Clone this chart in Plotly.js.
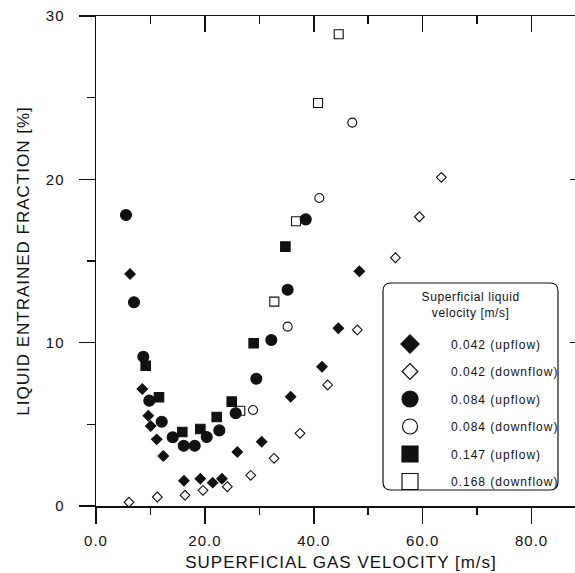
<!DOCTYPE html>
<html>
<head>
<meta charset="utf-8">
<script src="https://cdn.plot.ly/plotly-3.0.1.min.js"></script>
<style>
  html, body { margin: 0; padding: 0; overflow: hidden; background: #fff; }
  #chart { width: 600px; height: 573px; }
  .xtick text, .ytick text { letter-spacing: 1px; }
  text.xtitle, text.ytitle { letter-spacing: 1px; }
  text.legendtext { letter-spacing: 1px; }
  g.annotation-text-g text { letter-spacing: 0.6px; }
</style>
</head>
<body>
<div id="chart"></div>
<script>
// ---- data ----
const upflow042X = [6.25, 8.5, 9.61, 10.05, 11.15, 12.36, 16.16, 19.16, 21.44, 23.14, 25.96, 30.44, 35.76, 41.51, 44.51, 48.37];
const upflow042Y = [14.2, 7.16, 5.53, 4.90, 4.08, 3.06, 1.55, 1.67, 1.43, 1.67, 3.31, 3.94, 6.69, 8.53, 10.88, 14.37];

const down042X = [6.06, 11.26, 16.35, 19.65, 24.12, 28.42, 32.70, 37.47, 42.55, 48.0, 55.0, 59.4, 63.43];
const down042Y = [0.23, 0.55, 0.66, 0.96, 1.18, 1.88, 2.92, 4.45, 7.41, 10.78, 15.2, 17.71, 20.12];

const upflow084X = [5.51, 6.98, 8.69, 9.79, 12.07, 14.09, 16.11, 18.13, 20.33, 22.65, 25.66, 29.45, 32.2, 35.2, 38.52];
const upflow084Y = [17.82, 12.47, 9.14, 6.45, 5.16, 4.21, 3.69, 3.69, 4.22, 4.63, 5.68, 7.79, 10.16, 13.24, 17.55];

const down084X = [28.84, 35.2, 41.02, 47.08];
const down084Y = [5.88, 10.98, 18.86, 23.47];

const upflow147X = [9.13, 11.57, 15.85, 19.16, 22.17, 24.93, 28.96, 34.78];
const upflow147Y = [8.59, 6.66, 4.53, 4.71, 5.45, 6.39, 9.96, 15.88];

const down168X = [26.5, 32.75, 36.74, 40.78, 44.58];
const down168Y = [5.83, 12.51, 17.43, 24.67, 28.88];

const seriesNames = ['0.042 (upflow)', '0.042 (downflow)', '0.084 (upflow)', '0.084 (downflow)', '0.147 (upflow)', '0.168 (downflow)'];

const xTickVals = [0, 20, 40, 60, 80];
const xTickLabels = ['0.0', '20.0', '40.0', '60.0', '80.0'];
const yTickVals = [0, 10, 20, 30];
const yTickLabels = ['0', '10', '20', '30'];

const xTitle = 'SUPERFICIAL GAS VELOCITY [m/s]';
const yTitle = 'LIQUID ENTRAINED FRACTION [%]';
const legendTitle = 'Superficial liquid<br>velocity [m/s]';

// ---- styles ----
const FONT = "'Liberation Sans', Arial, sans-serif";
const INK = '#111';
const styles = [
  {symbol: 'diamond', size: 8, lsize: 14},
  {symbol: 'diamond-open', size: 7.5, lsize: 12},
  {symbol: 'circle', size: 11, lsize: 16},
  {symbol: 'circle-open', size: 9, lsize: 15},
  {symbol: 'square', size: 9.5, lsize: 16},
  {symbol: 'square-open', size: 9, lsize: 16}
];
const xs = [upflow042X, down042X, upflow084X, down084X, upflow147X, down168X];
const ys = [upflow042Y, down042Y, upflow084Y, down084Y, upflow147Y, down168Y];

const traces = [];
for (let i = 0; i < 6; i++) {
  traces.push({
    type: 'scatter', mode: 'markers', x: xs[i], y: ys[i], name: seriesNames[i],
    showlegend: false, hoverinfo: 'x+y',
    marker: {symbol: styles[i].symbol, size: styles[i].size, color: INK, line: {color: INK, width: 1.1}}
  });
}
// legend entries (larger symbols, as in the reference legend)
for (let i = 0; i < 6; i++) {
  traces.push({
    type: 'scatter', mode: 'markers', x: [null], y: [null], name: seriesNames[i],
    xaxis: 'x2', yaxis: 'y2', legendgroup: 'g' + i, showlegend: true, hoverinfo: 'skip',
    marker: {symbol: styles[i].symbol, size: styles[i].lsize, color: INK, line: {color: INK, width: 1.2}}
  });
}

// ---- layout helpers (paper coordinates for the 490x490 plot area) ----
const L = 96, T = 16, W = 490, H = 490;
const px = v => (v - L) / W;
const py = v => (T + H - v) / H;
const bx0 = px(383), bx1 = px(558), by0 = py(490), by1 = py(283), r = 8 / W;
const boxPath = `M ${bx0 + r},${by0} L ${bx1 - r},${by0} Q ${bx1},${by0} ${bx1},${by0 + r} ` +
  `L ${bx1},${by1 - r} Q ${bx1},${by1} ${bx1 - r},${by1} L ${bx0 + r},${by1} ` +
  `Q ${bx0},${by1} ${bx0},${by1 - r} L ${bx0},${by0 + r} Q ${bx0},${by0} ${bx0 + r},${by0} Z`;

const axisCommon = {
  showline: true, linecolor: INK, linewidth: 1.5, zeroline: false, showgrid: false,
  tickcolor: INK, tickwidth: 1.5, ticklen: 16
};

const layout = {
  width: 600, height: 573,
  margin: {l: L, r: 600 - L - W, t: T, b: 573 - T - H},
  paper_bgcolor: '#fff', plot_bgcolor: '#fff',
  font: {family: FONT, color: INK, size: 14},
  showlegend: true,
  xaxis: Object.assign({}, axisCommon, {
    range: [0, 90], ticks: 'outside', tickmode: 'array', tickvals: xTickVals, ticktext: xTickLabels,
    tickfont: {size: 15, family: FONT, color: INK}, ticklabelstandoff: 4,
    minor: {tickmode: 'linear', tick0: 0, dtick: 10, ticks: 'outside', ticklen: 7, tickwidth: 1.5, tickcolor: INK, showgrid: false},
    title: {text: xTitle, font: {size: 17, family: FONT, color: INK}, standoff: 8}
  }),
  yaxis: Object.assign({}, axisCommon, {
    range: [0, 30], ticks: 'outside', tickmode: 'array', tickvals: yTickVals, ticktext: yTickLabels,
    tickfont: {size: 15, family: FONT, color: INK}, ticklabelstandoff: 11,
    minor: {tickmode: 'linear', tick0: 0, dtick: 5, ticks: 'outside', ticklen: 8, tickwidth: 1.5, tickcolor: INK, showgrid: false},
    title: {text: yTitle, font: {size: 17, family: FONT, color: INK}, standoff: 12}
  }),
  xaxis2: Object.assign({}, axisCommon, {
    overlaying: 'x', side: 'top', range: [0, 90], ticks: 'inside', tickmode: 'array', tickvals: xTickVals,
    showticklabels: false,
    minor: {tickmode: 'linear', tick0: 0, dtick: 10, ticks: 'inside', ticklen: 8, tickwidth: 1.5, tickcolor: INK, showgrid: false}
  }),
  yaxis2: Object.assign({}, axisCommon, {
    overlaying: 'y', side: 'right', range: [0, 30], ticks: 'inside', tickmode: 'array', tickvals: yTickVals,
    showticklabels: false,
    minor: {tickmode: 'linear', tick0: 0, dtick: 5, ticks: 'inside', ticklen: 8, tickwidth: 1.5, tickcolor: INK, showgrid: false}
  }),
  legend: {
    x: px(369), y: py(329.5), xanchor: 'left', yanchor: 'top',
    bgcolor: 'rgba(0,0,0,0)', borderwidth: 0,
    font: {size: 12, family: FONT, color: INK},
    itemwidth: 72, tracegroupgap: 8.5, itemclick: false, itemdoubleclick: false
  },
  annotations: [{
    xref: 'paper', yref: 'paper', x: px(470.5), y: py(304.5), xanchor: 'center', yanchor: 'middle',
    text: legendTitle, showarrow: false, align: 'center', font: {size: 12, family: FONT, color: INK}
  }],
  shapes: [{type: 'path', xref: 'paper', yref: 'paper', path: boxPath, line: {color: INK, width: 1.2}, fillcolor: 'rgba(0,0,0,0)', layer: 'below'}]
};

Plotly.newPlot('chart', traces, layout, {displayModeBar: false, staticPlot: true});
</script>
</body>
</html>
